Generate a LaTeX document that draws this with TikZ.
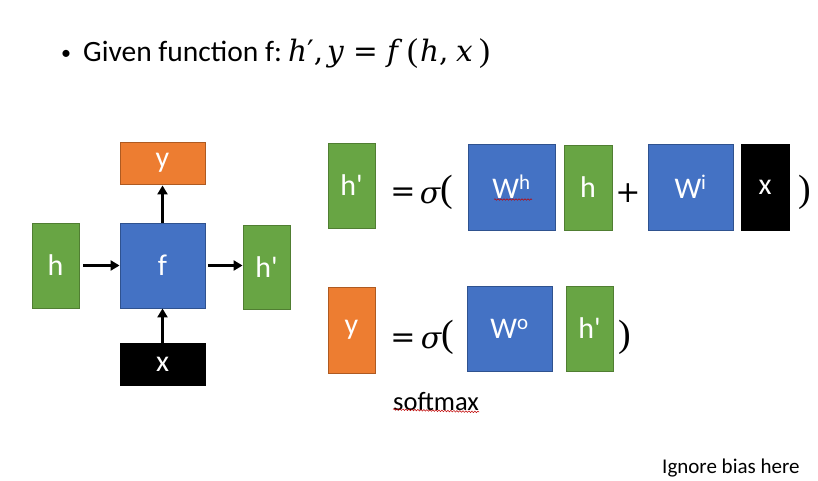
\documentclass[tikz,border=0pt]{standalone}
\usepackage{fontspec}
\setmainfont{Carlito}
\newfontfamily\mathfam{DejaVu Serif}
\newfontfamily\parfam{Liberation Serif}
\newcommand\mivar[1]{{\itshape #1}}
\newcommand\mb[2]{\makebox[#1pt][l]{#2}}
\usetikzlibrary{arrows.meta,decorations.pathmorphing}
\definecolor{gfill}{HTML}{68A544}
\definecolor{gedge}{HTML}{507E32}
\definecolor{bfill}{HTML}{4472C4}
\definecolor{bedge}{HTML}{2F528F}
\definecolor{ofill}{HTML}{ED7D31}
\definecolor{oedge}{HTML}{AE5A21}
\begin{document}
\begin{tikzpicture}[x=1pt,y=-1pt,
  box/.style={draw, line width=0.9pt, inner sep=0pt, text=white, font=\fontsize{30}{34}\selectfont},
  gbox/.style={box, fill=gfill, draw=gedge},
  bbox/.style={box, fill=bfill, draw=bedge},
  obox/.style={box, fill=ofill, draw=oedge},
  kbox/.style={box, fill=black, draw=black},
  arr/.style={line width=2.6pt, -{Triangle[length=9pt,width=10pt]}},
  mtext/.style={inner sep=0pt, anchor=base, font=\mathfam\fontsize{30}{34}\selectfont},
  paren/.style={mtext, font=\parfam\fontsize{38}{42}\selectfont},
  squig/.style={draw=red!75!black, line width=0.5pt, decorate, decoration={snake, amplitude=0.8pt, segment length=3pt}}
]
\useasboundingbox (0,0) rectangle (818,481);
% title
\node[anchor=base west, inner sep=0pt, font=\fontsize{29.5}{34}\selectfont] (title) at (61,62)
  {\mb{22}{\fontsize{20}{20}\selectfont\raisebox{2pt}{\textbullet}}\mb{205}{Given function f:}{\mathfam\fontsize{29.5}{32}\selectfont\mb{39}{\mivar{h}′,}\mb{26}{\mivar{y}}\mb{34}{=}\mb{20}{\mivar{f}}\mb{13}{\parfam\fontsize{33}{34}\selectfont(}\mb{36}{\mivar{h},}\mb{23}{\mivar{x}}{\parfam\fontsize{33}{34}\selectfont)}}};
% left diagram
\node[obox, minimum width=85pt, minimum height=42pt] (y) at (162.5,163) {y};
\node[bbox, minimum width=85pt, minimum height=85pt] (f) at (162.5,265.5) {f};
\node[gbox, minimum width=47pt, minimum height=85pt] (h) at (55.5,265.5) {h};
\node[gbox, minimum width=47pt, minimum height=84pt] (hp) at (266.5,267) {h\textquotesingle};
\node[kbox, minimum width=85pt, minimum height=42pt] (x) at (162.5,364) {x};
\draw[arr] ([xshift=4pt]h.east |- f.west) -- (f.west);
\draw[arr] ([xshift=3pt]f.east) -- (hp.west |- f.east);
\draw[arr] (f.north) -- ([yshift=-1pt]y.south);
\draw[arr] (x.north) -- (f.south);
% first equation
\node[gbox, minimum width=47pt, minimum height=85pt] (e1h) at (351.5,185.5) {h\textquotesingle};
\node[mtext] (e1eq) at (403,201) {=};
\node[mtext] (e1sig) at (430,203) {\mivar{σ}};
\node[paren] (e1op) at (447,201) {(};
\node[bbox, minimum width=87pt, minimum height=86pt] (wh) at (511.5,187) {W\textsuperscript{h}};
\node[gbox, minimum width=48pt, minimum height=85pt] (e1hh) at (588,187.5) {h};
\node[mtext] (plus) at (628,202) {+};
\node[bbox, minimum width=85pt, minimum height=86pt] (wi) at (690.5,187) {W\textsuperscript{i}};
\node[kbox, minimum width=48pt, minimum height=86pt] (e1x) at (765,187) {x};
\node[paren] (e1cl) at (805,201) {)};
\draw[squig] (494,199.5) -- (532,199.5);
% second equation
\node[obox, minimum width=47pt, minimum height=86pt] (e2y) at (351.5,330) {y};
\node[mtext] (e2eq) at (403,347) {=};
\node[mtext] (e2sig) at (431,348) {\mivar{σ}};
\node[paren] (e2op) at (448,346) {(};
\node[bbox, minimum width=85pt, minimum height=85pt] (wo) at (509.5,328.5) {W\textsuperscript{o}};
\node[gbox, minimum width=47pt, minimum height=85pt] (e2hp) at (589.5,328.5) {h\textquotesingle};
\node[paren] (e2cl) at (625,346) {)};
\node[anchor=base west, inner sep=0pt, font=\fontsize{26.5}{30}\selectfont] (soft) at (393,410) {softmax};
\draw[squig] (soft.south west) ++(0,-1) -- (soft.south east |- 0,{412});
% note
\node[anchor=base west, inner sep=0pt, font=\fontsize{21}{24}\selectfont] (note) at (662,473) {Ignore bias here};
\end{tikzpicture}
\end{document}
